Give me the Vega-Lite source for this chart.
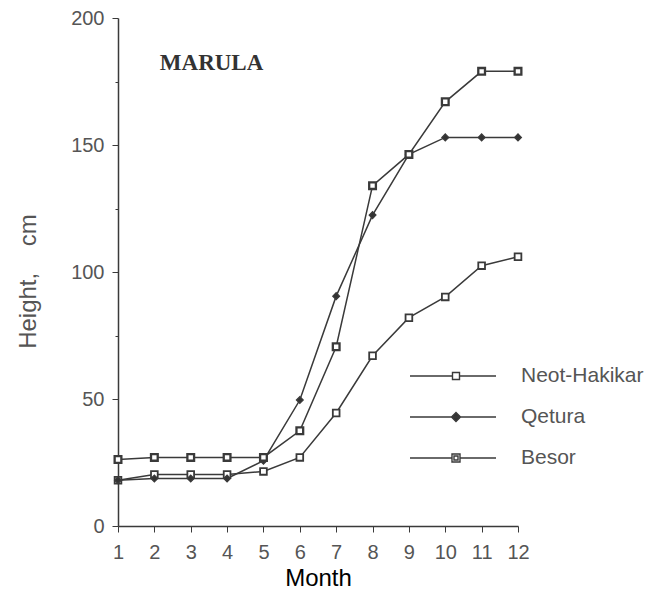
{
  "$schema": "https://vega.github.io/schema/vega-lite/v6.json",
  "width": 400,
  "height": 508,
  "autosize": "none",
  "padding": {"left": 118, "top": 18, "right": 130, "bottom": 65},
  "background": "white",
  "config": {"view": {"stroke": null}, "font": "Liberation Sans"},
  "data": {
    "values": [
      {"month": 1, "height": 18, "site": "Neot-Hakikar"},
      {"month": 2, "height": 20.3, "site": "Neot-Hakikar"},
      {"month": 3, "height": 20.3, "site": "Neot-Hakikar"},
      {"month": 4, "height": 20.3, "site": "Neot-Hakikar"},
      {"month": 5, "height": 21.5, "site": "Neot-Hakikar"},
      {"month": 6, "height": 27, "site": "Neot-Hakikar"},
      {"month": 7, "height": 44.5, "site": "Neot-Hakikar"},
      {"month": 8, "height": 67, "site": "Neot-Hakikar"},
      {"month": 9, "height": 82, "site": "Neot-Hakikar"},
      {"month": 10, "height": 90.2, "site": "Neot-Hakikar"},
      {"month": 11, "height": 102.5, "site": "Neot-Hakikar"},
      {"month": 12, "height": 106, "site": "Neot-Hakikar"},
      {"month": 1, "height": 18, "site": "Qetura"},
      {"month": 2, "height": 18.7, "site": "Qetura"},
      {"month": 3, "height": 18.7, "site": "Qetura"},
      {"month": 4, "height": 18.7, "site": "Qetura"},
      {"month": 5, "height": 25.7, "site": "Qetura"},
      {"month": 6, "height": 49.6, "site": "Qetura"},
      {"month": 7, "height": 90.5, "site": "Qetura"},
      {"month": 8, "height": 122.4, "site": "Qetura"},
      {"month": 9, "height": 146.3, "site": "Qetura"},
      {"month": 10, "height": 153, "site": "Qetura"},
      {"month": 11, "height": 153, "site": "Qetura"},
      {"month": 12, "height": 153, "site": "Qetura"},
      {"month": 1, "height": 26.2, "site": "Besor"},
      {"month": 2, "height": 27, "site": "Besor"},
      {"month": 3, "height": 27, "site": "Besor"},
      {"month": 4, "height": 27, "site": "Besor"},
      {"month": 5, "height": 27, "site": "Besor"},
      {"month": 6, "height": 37.5, "site": "Besor"},
      {"month": 7, "height": 70.6, "site": "Besor"},
      {"month": 8, "height": 134, "site": "Besor"},
      {"month": 9, "height": 146.3, "site": "Besor"},
      {"month": 10, "height": 167, "site": "Besor"},
      {"month": 11, "height": 179, "site": "Besor"},
      {"month": 12, "height": 179, "site": "Besor"}
    ]
  },
  "encoding": {
    "x": {
      "field": "month",
      "type": "quantitative",
      "scale": {"domain": [1, 12], "nice": false, "zero": false},
      "axis": {
        "values": [1,1.25,1.5,1.75,2,2.25,2.5,2.75,3,3.25,3.5,3.75,4,4.25,4.5,4.75,5,5.25,5.5,5.75,6,6.25,6.5,6.75,7,7.25,7.5,7.75,8,8.25,8.5,8.75,9,9.25,9.5,9.75,10,10.25,10.5,10.75,11,11.25,11.5,11.75,12],
        "format": "d",
        "labelExpr": "datum.value % 1 === 0 ? datum.label : ''",
        "tickSize": {"condition": {"test": "datum.value % 1 === 0", "value": 6}, "value": 3},
        "grid": false,
        "title": "Month",
        "titleFontSize": 24,
        "titleColor": "black",
        "titleFontWeight": "normal",
        "titleX": 200,
        "titleY": 59,
        "titleBaseline": "alphabetic",
        "labelFontSize": 20,
        "labelColor": "#555",
        "labelPadding": 10,
        "labelFlush": false,
        "labelOverlap": false,
        "domainColor": "#3a3a3a",
        "tickColor": "#3a3a3a",
        "domainWidth": 1.5
      }
    },
    "y": {
      "field": "height",
      "type": "quantitative",
      "scale": {"domain": [0, 200], "nice": false},
      "axis": {
        "values": [0,25,50,75,100,125,150,175,200],
        "labelExpr": "datum.value % 50 === 0 ? datum.label : ''",
        "tickSize": {"condition": {"test": "datum.value % 50 === 0", "value": 6}, "value": 3},
        "grid": false,
        "title": "Height,\u00a0\u00a0\u00a0\u00a0cm",
        "titleFontSize": 24,
        "titleColor": "#555",
        "titleFontWeight": "normal",
        "titleAngle": -90,
        "titleX": -90,
        "titleY": 263,
        "titleAlign": "center",
        "titleBaseline": "middle",
        "labelFontSize": 20,
        "labelColor": "#555",
        "labelPadding": 8,
        "labelOverlap": false,
        "domainColor": "#3a3a3a",
        "tickColor": "#3a3a3a",
        "domainWidth": 1.5
      }
    }
  },
  "layer": [
    {
      "mark": {"type": "line", "strokeWidth": 1.5},
      "encoding": {
        "stroke": {
          "field": "site",
          "scale": {"domain": ["Neot-Hakikar", "Qetura", "Besor"], "range": ["#3a3a3a", "#3a3a3a", "#3a3a3a"]},
          "legend": {
            "orient": "none",
            "legendX": 324,
            "legendY": 347,
            "title": null,
            "padding": 0,
            "symbolSize": 400,
            "symbolType": {"expr": "datum.value === 'Qetura' ? 'M-4.3,0H4.3M0.3,-0.45L0.75,0L0.3,0.45L-0.15,0Z' : datum.value === 'Besor' ? 'M-4.3,0H-0.1M0.7,0H4.3M-0.1,-0.4H0.7V0.4H-0.1ZM0.1,-0.2H0.5V0.2H0.1Z' : 'M-4.3,0H-0.05M0.65,0H4.3M-0.05,-0.35H0.65V0.35H-0.05Z'"},
            "symbolFillColor": {"expr": "datum.value === 'Qetura' ? '#333333' : 'white'"},
            "symbolStrokeWidth": 1.4,
            "rowPadding": 20,
            "labelFontSize": 21,
            "labelColor": "#555",
            "labelOffset": 57
          }
        }
      }
    },
    {
      "mark": {"type": "point", "filled": true, "stroke": "#3a3a3a", "size": 45, "opacity": 1},
      "encoding": {
        "shape": {"field": "site", "scale": {"domain": ["Besor", "Neot-Hakikar", "Qetura"], "range": ["square", "square", "diamond"]}, "legend": null},
        "strokeWidth": {"field": "site", "type": "nominal", "scale": {"domain": ["Besor", "Neot-Hakikar", "Qetura"], "range": [2.3, 1.3, 1.3]}, "legend": null},
        "fill": {
          "field": "site",
          "scale": {"domain": ["Besor", "Neot-Hakikar", "Qetura"], "range": ["white", "white", "#333333"]},
          "legend": null
        }
      }
    },
    {
      "data": {"values": [{"month": 2.15, "height": 179.5, "label": "MARULA"}]},
      "mark": {"type": "text", "font": "Liberation Serif", "fontWeight": "bold", "fontSize": 23, "align": "left", "baseline": "alphabetic", "color": "#333"},
      "encoding": {"text": {"field": "label"}}
    }
  ]
}
